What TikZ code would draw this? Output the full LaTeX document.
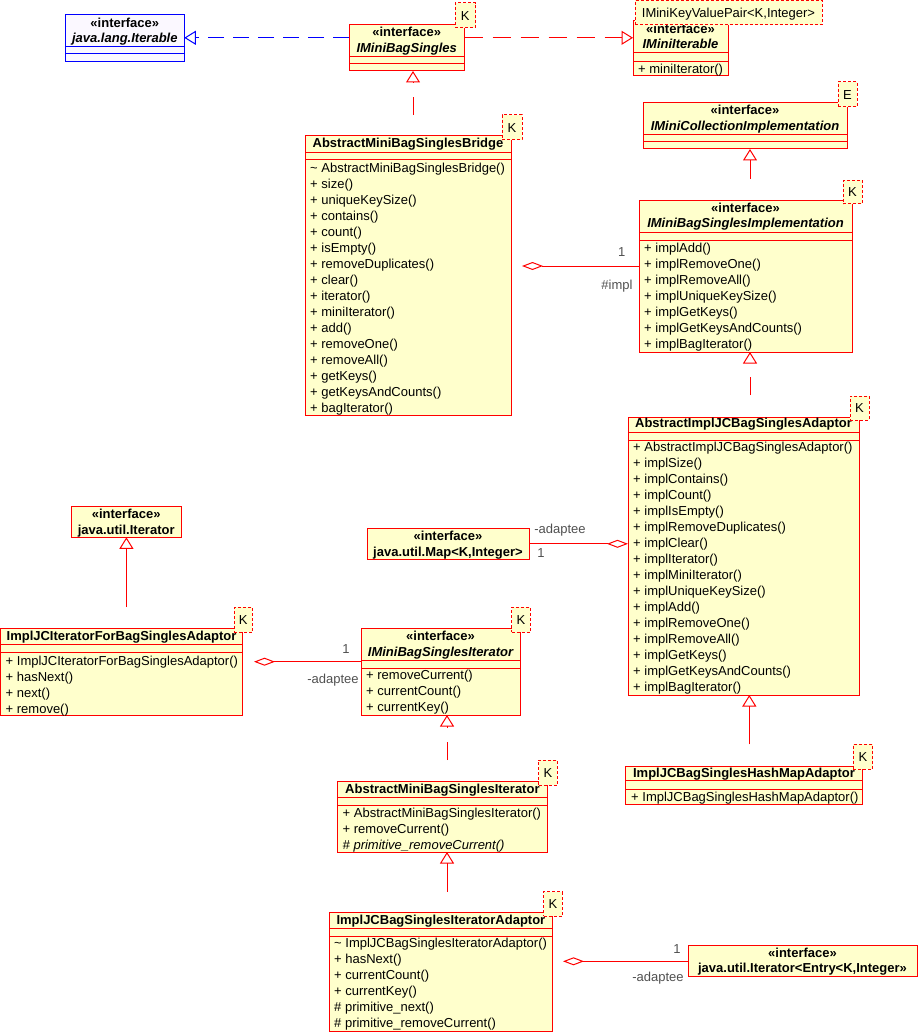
\documentclass[tikz,border=0pt]{standalone}
\usepackage{fontspec}
\setmainfont{Liberation Sans}
\usetikzlibrary{arrows.meta}
\definecolor{cred}{RGB}{255,0,0}
\definecolor{cfill}{RGB}{255,255,204}
\definecolor{cblue}{RGB}{0,0,255}
\definecolor{bfill}{RGB}{251,248,255}
\definecolor{lbl}{RGB}{80,80,80}
\tikzset{
 cls/.style={draw=cred, fill=cfill, line width=1pt, rectangle, inner sep=0pt, outer sep=0pt, anchor=north west},
 bcls/.style={cls, draw=cblue, fill=bfill},
 tmpl/.style={cls, dash pattern=on 3pt off 2pt},
 txt/.style={inner sep=0pt, font=\fontsize{13pt}{16pt}\selectfont, anchor=base west},
 hd/.style={txt, anchor=base, font=\fontsize{13pt}{16pt}\selectfont\bfseries},
 hdi/.style={hd, font=\fontsize{13pt}{16pt}\selectfont\bfseries\itshape},
 lab/.style={txt, text=lbl, anchor=base},
 gen/.style={draw=cred, line width=1pt, -{Triangle[open, length=11.5pt, width=14pt]}},
 real/.style={gen, dash pattern=on 18pt off 14pt},
 agg/.style={draw=cred, line width=1pt, -{Diamond[open, length=21pt, width=8pt]}},
}
\newcommand\cbox[6][cls]{\node[#1, minimum width=#4pt-#2pt, minimum height=#5pt-#3pt] (#6) at (#2,#3) {};}
\newcommand\sepl[4][cred]{\draw[line width=1pt, #1] (#2,#4) -- (#3,#4);}
\newcommand\meths[4]{\foreach \t [count=\i] in {#4} {\node[txt] (#1-\i) at (#2, #3+4.6+16*\i-16) {\t};}}
\newcommand\tbox[6]{\node[tmpl, minimum width=#4pt-#2pt, minimum height=#5pt-#3pt] (#1) at (#2,#3) {};
 \node[txt, anchor=base] (#1-t) at ({(#2+#4)/2},{(#3+#5)/2+4.6}) {#6};}
\begin{document}
\begin{tikzpicture}[x=1pt,y=-1pt]
\useasboundingbox (0,0) rectangle (918,1032);
\coordinate (c1) at (413,115);
\coordinate (c2) at (750,179);
\coordinate (c3) at (750,395);
\coordinate (c4) at (749.3,744.3);
\coordinate (c5) at (126.4,607);
\coordinate (c6) at (447,760);
\coordinate (c7) at (447,891.7);
\coordinate (d1) at (522,266);
\coordinate (d3) at (254,661.7);
\coordinate (d4) at (563,961.3);
% ---------- java.lang.Iterable ----------
\cbox[bcls]{65.3}{14.3}{184.3}{61.3}{iter}
\sepl[cblue]{65.3}{184.3}{46.7}
\sepl[cblue]{65.3}{184.3}{54}
\node[hd] (iter-s) at (124.8,22.7+4.6) {«interface»};
\node[hdi] (iter-n) at (124.8,38.3+4.6) {java.lang.Iterable};
% ---------- IMiniBagSingles ----------
\cbox{349}{24.3}{464.5}{71}{imbs}
\sepl{349}{464.5}{56.3}
\sepl{349}{464.5}{64}
\node[hd] (imbs-s) at (406.7,32.3+4.6) {«interface»};
\node[hdi] (imbs-n) at (406.7,47.7+4.6) {IMiniBagSingles};
\tbox{imbsk}{455}{3}{475.5}{28}{K}
% ---------- IMiniIterable ----------
\cbox{633}{21}{728}{76}{imit}
\sepl{633}{728}{53}
\sepl{633}{728}{62}
\node[hd] (imit-s) at (680.5,29.3+4.6) {«interface»};
\node[hdi] (imit-n) at (680.5,44.3+4.6) {IMiniIterable};
\meths{imit-m}{638}{69}{+ miniIterator()}
\tbox{imitk}{635}{0.5}{822}{25}{IMiniKeyValuePair<K,Integer>}
% ---------- IMiniCollectionImplementation ----------
\cbox{643}{102.3}{847}{149}{coll}
\sepl{643}{847}{134.3}
\sepl{643}{847}{142}
\node[hd] (coll-s) at (745,109.7+4.6) {«interface»};
\node[hdi] (coll-n) at (745,125.7+4.6) {IMiniCollectionImplementation};
\tbox{collk}{838}{82}{857}{107}{E}
% ---------- AbstractMiniBagSinglesBridge ----------
\cbox{305}{136}{511}{415}{bridge}
\sepl{305}{511}{152.3}
\sepl{305}{511}{160}
\node[hd] (bridge-n) at (408,143.3+4.6) {AbstractMiniBagSinglesBridge};
\meths{bridge-m}{310}{168}{\textasciitilde\ AbstractMiniBagSinglesBridge(),+ size(),+ uniqueKeySize(),+ contains(),+ count(),+ isEmpty(),+ removeDuplicates(),+ clear(),+ iterator(),+ miniIterator(),+ add(),+ removeOne(),+ removeAll(),+ getKeys(),+ getKeysAndCounts(),+ bagIterator()}
\tbox{bridgek}{502}{115}{522}{140}{K}
% ---------- IMiniBagSinglesImplementation ----------
\cbox{639}{201}{852}{352}{impl}
\sepl{639}{852}{232.3}
\sepl{639}{852}{240.3}
\node[hd] (impl-s) at (745.5,208.3+4.6) {«interface»};
\node[hdi] (impl-n) at (745.5,223.3+4.6) {IMiniBagSinglesImplementation};
\meths{impl-m}{644}{248.3}{+ implAdd(),+ implRemoveOne(),+ implRemoveAll(),+ implUniqueKeySize(),+ implGetKeys(),+ implGetKeysAndCounts(),+ implBagIterator()}
\tbox{implk}{843}{180.5}{862}{204}{K}
% ---------- AbstractImplJCBagSinglesAdaptor ----------
\cbox{628}{417}{859}{695}{adapt}
\sepl{628}{859}{432.3}
\sepl{628}{859}{440.7}
\node[hd] (adapt-n) at (743.5,423.3+4.6) {AbstractImplJCBagSinglesAdaptor};
\meths{adapt-m}{633}{447.3}{+ AbstractImplJCBagSinglesAdaptor(),+ implSize(),+ implContains(),+ implCount(),+ implIsEmpty(),+ implRemoveDuplicates(),+ implClear(),+ implIterator(),+ implMiniIterator(),+ implUniqueKeySize(),+ implAdd(),+ implRemoveOne(),+ implRemoveAll(),+ implGetKeys(),+ implGetKeysAndCounts(),+ implBagIterator()}
\tbox{adaptk}{850}{396}{869}{420}{K}
% ---------- java.util.Map ----------
\cbox{367}{528.3}{529.3}{559.3}{map}
\node[hd] (map-s) at (448,535.7+4.6) {«interface»};
\node[hd] (map-n) at (448,552+4.6) {java.util.Map<K,Integer>};
% ---------- java.util.Iterator ----------
\cbox{71}{506}{181.5}{537.3}{jit}
\node[hd] (jit-s) at (126.2,514+4.6) {«interface»};
\node[hd] (jit-n) at (126.2,530+4.6) {java.util.Iterator};
% ---------- ImplJCIteratorForBagSinglesAdaptor ----------
\cbox{0.5}{628.3}{242.4}{715}{ijci}
\sepl{0.5}{242.4}{644.3}
\sepl{0.5}{242.4}{652.3}
\node[hd] (ijci-n) at (121.5,636+4.6) {ImplJCIteratorForBagSinglesAdaptor};
\meths{ijci-m}{5.5}{660.7}{+ ImplJCIteratorForBagSinglesAdaptor(),+ hasNext(),+ next(),+ remove()}
\tbox{ijcik}{234.2}{607.3}{252.4}{632.3}{K}
% ---------- IMiniBagSinglesIterator ----------
\cbox{361}{628.3}{520}{715}{imbsi}
\sepl{361}{520}{660.7}
\sepl{361}{520}{668.7}
\node[hd] (imbsi-s) at (440.5,636+4.6) {«interface»};
\node[hdi] (imbsi-n) at (440.5,651.7+4.6) {IMiniBagSinglesIterator};
\meths{imbsi-m}{366}{675}{+ removeCurrent(),+ currentCount(),+ currentKey()}
\tbox{imbsik}{511.7}{607.3}{530.3}{632.3}{K}
% ---------- AbstractMiniBagSinglesIterator ----------
\cbox{337.5}{781.7}{547.3}{852}{amsi}
\sepl{337.5}{547.3}{797.3}
\sepl{337.5}{547.3}{805.3}
\node[hd] (amsi-n) at (442.4,789+4.6) {AbstractMiniBagSinglesIterator};
\meths{amsi-m}{342.5}{812.7}{+ AbstractMiniBagSinglesIterator(),+ removeCurrent(),{\itshape\# primitive\_removeCurrent()}}
\tbox{amsik}{538.5}{760}{557.2}{785.3}{K}
% ---------- ImplJCBagSinglesHashMapAdaptor ----------
\cbox{625.7}{766}{862.3}{804}{hash}
\sepl{625.7}{862.3}{780.7}
\sepl{625.7}{862.3}{789.3}
\node[hd] (hash-n) at (744,773.3+4.6) {ImplJCBagSinglesHashMapAdaptor};
\meths{hash-m}{631}{796.7}{+ ImplJCBagSinglesHashMapAdaptor()}
\tbox{hashk}{853.3}{744.3}{872.7}{769.3}{K}
% ---------- ImplJCBagSinglesIteratorAdaptor ----------
\cbox{329.5}{912.7}{552.3}{1031.5}{ijcbi}
\sepl{329.5}{552.3}{928.3}
\sepl{329.5}{552.3}{936.7}
\node[hd] (ijcbi-n) at (440.9,920+4.6) {ImplJCBagSinglesIteratorAdaptor};
\meths{ijcbi-m}{334}{943}{\textasciitilde\ ImplJCBagSinglesIteratorAdaptor(),+ hasNext(),+ currentCount(),+ currentKey(),\# primitive\_next(),\# primitive\_removeCurrent()}
\tbox{ijcbik}{543.5}{891.7}{562.2}{916}{K}
% ---------- java.util.Iterator<Entry<K,Integer>> ----------
\cbox{688}{945.7}{917}{976.7}{entry}
\node[hd] (entry-s) at (802.5,953+4.6) {«interface»};
\node[hd] (entry-n) at (802.5,968+4.6) {java.util.Iterator<Entry<K,Integer>>};
% ---------- generalizations / realizations ----------
\draw[real, draw=cblue, dash pattern=on 16pt off 9pt] (imbs.west |- iter.east) -- (iter.east);
\draw[real, dash pattern=on 18pt off 10pt] (imbs.east |- iter.east) -- (imit.west |- iter.east);
\draw[real] (c1) -- (c1 |- imbs.south);
\draw[gen] (c2) -- (c2 |- coll.south);
\draw[real] (c3) -- (c3 |- impl.south);
\draw[gen] (c4) -- (c4 |- adapt.south);
\draw[gen] (c5) -- (c5 |- jit.south);
\draw[real] (c6) -- (c6 |- imbsi.south);
\draw[gen] (c7) -- (c7 |- amsi.south);
% ---------- aggregations ----------
\draw[agg] (impl.west |- d1) -- (d1);
\draw[agg] (map.east) -- (adapt.west |- map.east);
\draw[agg] (imbsi.west |- d3) -- (d3);
\draw[agg] (entry.west |- d4) -- (d4);
% ---------- role / multiplicity labels ----------
\node[lab] (l1) at (621.7,251.7+4.6) {1};
\node[lab] (l2) at (617,285+4.6) {\#impl};
\node[lab] (l3) at (560,529.3+4.6) {-adaptee};
\node[lab] (l4) at (541,552.7+4.6) {1};
\node[lab] (l5) at (346,649+4.6) {1};
\node[lab] (l6) at (333,679+4.6) {-adaptee};
\node[lab] (l7) at (677,949+4.6) {1};
\node[lab] (l8) at (658,976.7+4.6) {-adaptee};
\end{tikzpicture}
\end{document}
